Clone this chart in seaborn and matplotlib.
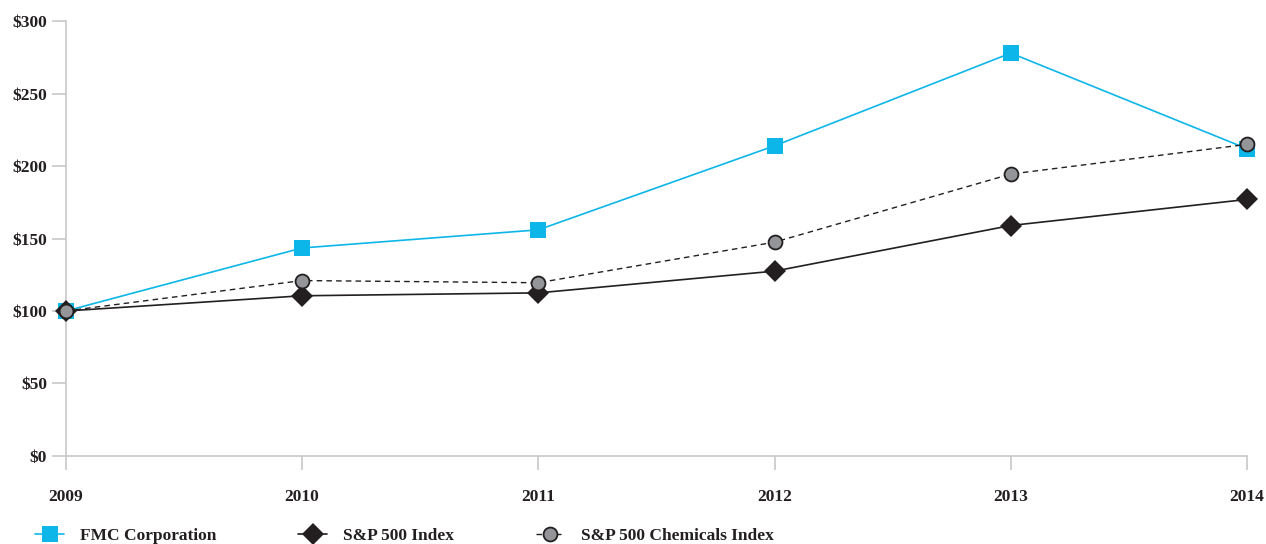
import pandas as pd
import matplotlib
matplotlib.use("Agg")
import matplotlib.pyplot as plt
import seaborn as sns

# Cumulative total return, $100 invested at end of 2009
years = [2009, 2010, 2011, 2012, 2013, 2014]
fmc = [100, 143.5, 156, 214, 278, 212]
sp500 = [100, 110.5, 112.5, 127.5, 159, 177]
sp_chem = [100, 121, 119.5, 147.5, 194.5, 215]
y_ticks = [0, 50, 100, 150, 200, 250, 300]

sns.set_style("white")
plt.rcParams['font.family'] = ['Liberation Serif', 'DejaVu Serif']
plt.rcParams['font.weight'] = 'bold'

fig = plt.figure(figsize=(12.66, 5.44), dpi=100)
ax = fig.add_axes([0.052, 0.162, 0.933, 0.799])

cyan = '#0DB6E8'
dark = '#231F20'
grey = '#939598'

sns.lineplot(x=years, y=fmc, ax=ax, color=cyan, lw=1.2, marker='s',
             markersize=12, markeredgewidth=0, label='FMC Corporation', zorder=3)
sns.lineplot(x=years, y=sp500, ax=ax, color=dark, lw=1.2, marker='D',
             markersize=11, markeredgewidth=0, markerfacecolor=dark,
             label='S&P 500 Index', zorder=4)
sns.lineplot(x=years, y=sp_chem, ax=ax, color=dark, lw=1.0, marker='o',
             markersize=10, markerfacecolor=grey, markeredgecolor=dark,
             markeredgewidth=1.3, label='S&P 500 Chemicals Index', zorder=5)
ax.lines[-1].set_dashes([4, 3])

ax.set_xlim(years[0], years[-1])
ax.set_ylim(0, 300)
ax.set_xticks(years)
ax.set_xticklabels([str(y) for y in years])
ax.set_yticks(y_ticks)
ax.set_yticklabels(['$%d' % v for v in y_ticks])

for side in ['top', 'right']:
    ax.spines[side].set_visible(False)
for side in ['left', 'bottom']:
    ax.spines[side].set_color('#C8C8C8')
    ax.spines[side].set_linewidth(1.2)
ax.tick_params(axis='both', which='major', direction='out', length=10,
               width=1.2, color='#C8C8C8', labelsize=12.5, labelcolor=dark,
               bottom=True, left=True)
ax.tick_params(axis='x', pad=14)
ax.tick_params(axis='y', pad=3.5)
for lab in ax.get_xticklabels() + ax.get_yticklabels():
    lab.set_fontweight('bold')
for ln in ax.lines:
    ln.set_clip_on(False)

leg = ax.legend(loc='lower left', bbox_to_anchor=(0.022, -0.012), bbox_transform=fig.transFigure,
                ncol=3, frameon=False, fontsize=12.5, handlelength=1.7,
                columnspacing=4.7, handletextpad=0.9, borderaxespad=0.0)
for t in leg.get_texts():
    t.set_color(dark)

fig.savefig('out.png', dpi=100)
